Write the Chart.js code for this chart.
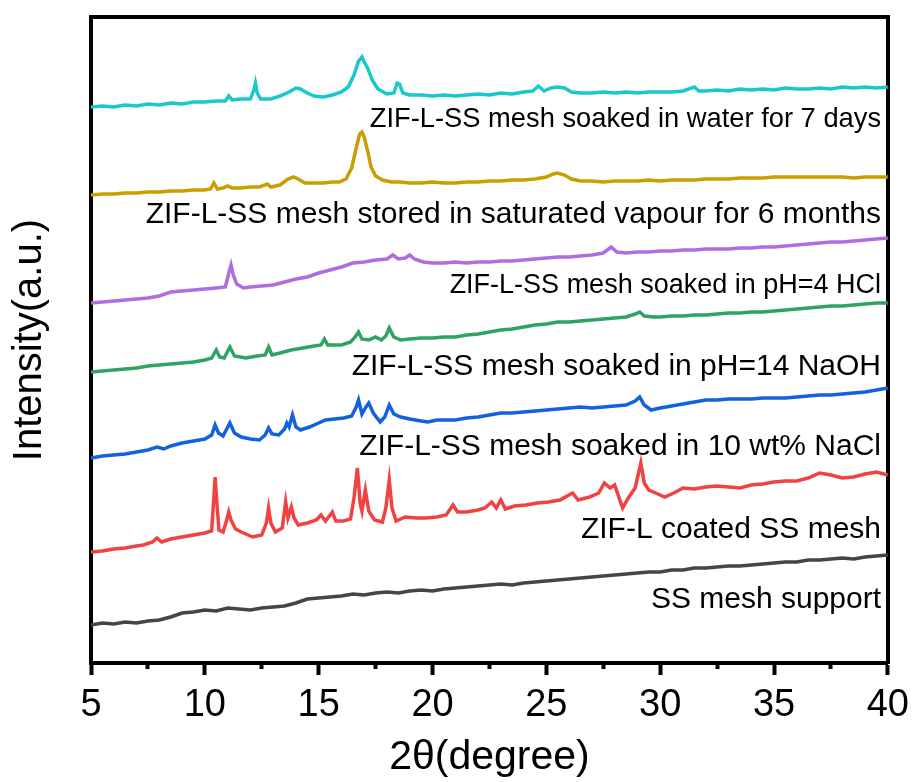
<!DOCTYPE html>
<html>
<head>
<meta charset="utf-8">
<title>XRD patterns</title>
<script src="https://cdn.jsdelivr.net/npm/chart.js@4"></script>
<style>
  html, body { margin: 0; padding: 0; background: #ffffff; }
  #chart { display: block; }
</style>
</head>
<body>
<canvas id="chart" width="917" height="782"></canvas>
<script>
// Series names, top to bottom
const seriesNames = [
  'ZIF-L-SS mesh soaked in water for 7 days',
  'ZIF-L-SS mesh stored in saturated vapour for 6 months',
  'ZIF-L-SS mesh soaked in pH=4 HCl',
  'ZIF-L-SS mesh soaked in pH=14 NaOH',
  'ZIF-L-SS mesh soaked in 10 wt% NaCl',
  'ZIF-L coated SS mesh',
  'SS mesh support'
];

const seriesColors = ['#18c8cc', '#c99e00', '#b06ce0', '#2ea362', '#1262e0', '#f04242', '#454545'];

// Tick values on the 2theta axis
const xTickValues = [5, 10, 15, 20, 25, 30, 35, 40];

// Water 7 days (offset intensity, a.u.)
const waterTheta = [5, 5.5, 6, 6.5, 7, 7.5, 8, 8.5, 9, 9.5, 10, 10.5, 10.9, 11.05, 11.2, 11.6, 12.0, 12.15, 12.22, 12.3, 12.45, 12.9, 13.3, 13.7, 14.0, 14.2, 14.5, 14.8, 15.2, 15.6, 16.0, 16.3, 16.55, 16.75, 16.9, 17.0, 17.15, 17.35, 17.6, 18.0, 18.3, 18.45, 18.55, 18.7, 19.0, 19.5, 20.0, 20.5, 21.0, 21.5, 22, 22.5, 23, 23.5, 24, 24.4, 24.65, 24.9, 25.2, 25.5, 25.8, 26.1, 26.5, 27, 27.5, 28, 28.5, 29, 29.5, 30, 30.5, 31, 31.5, 31.7, 32, 32.5, 33, 33.5, 34, 34.5, 35, 35.5, 36, 36.5, 37, 37.5, 38, 38.5, 39, 39.5, 40];
const waterI = [556, 557, 556, 558, 557, 559, 558, 560, 559, 561, 561, 562, 562, 567, 563, 564, 564, 573, 580, 570, 564, 564, 567, 571, 575, 574, 570, 567, 566, 568, 571, 576, 588, 602, 606, 601, 595, 583, 574, 569, 570, 580, 579, 570, 568, 568, 567, 568, 567, 568, 569, 568, 570, 569, 571, 572, 577, 572, 575, 576, 575, 571, 570, 570, 571, 570, 571, 570, 571, 571, 571, 572, 576, 572, 572, 573, 572, 574, 573, 574, 573, 575, 574, 574, 575, 574, 576, 575, 576, 575, 576];

// Saturated vapour 6 months
const vapourTheta = [5, 5.5, 6, 6.5, 7, 7.5, 8, 8.5, 9, 9.5, 10, 10.25, 10.4, 10.55, 10.8, 11.0, 11.2, 11.6, 12, 12.4, 12.75, 12.9, 13.3, 13.65, 13.9, 14.1, 14.4, 14.8, 15.2, 15.6, 15.9, 16.2, 16.45, 16.65, 16.8, 16.9, 17.0, 17.15, 17.3, 17.5, 17.8, 18.2, 18.6, 19, 19.5, 20, 20.5, 21, 21.5, 22, 22.5, 23, 23.5, 24, 24.5, 25, 25.3, 25.5, 25.8, 26.1, 26.5, 27, 27.5, 28, 28.5, 29, 29.5, 30, 30.5, 31, 31.5, 32, 32.5, 33, 33.5, 34, 34.5, 35, 35.5, 36, 36.5, 37, 37.5, 38, 38.5, 39, 39.5, 40];
const vapourI = [468, 469, 469, 470, 470, 471, 471, 472, 472, 473, 473, 474, 480, 474, 475, 477, 475, 475, 476, 476, 479, 476, 478, 484, 486, 484, 480, 480, 480, 481, 481, 484, 495, 515, 529, 531, 526, 512, 496, 487, 483, 481, 481, 480, 480, 481, 480, 480, 481, 481, 482, 482, 483, 483, 484, 486, 489, 490, 488, 484, 482, 482, 481, 482, 482, 482, 483, 482, 483, 483, 483, 484, 484, 484, 485, 485, 485, 486, 486, 486, 486, 486, 486, 486, 485, 486, 486, 486];

// pH=4 HCl
const hclTheta = [5, 5.5, 6, 6.5, 7, 7.5, 8, 8.5, 9, 9.5, 10, 10.5, 10.9, 11.05, 11.15, 11.25, 11.4, 11.7, 12, 12.5, 13, 13.5, 14, 14.5, 15, 15.5, 16, 16.5, 17, 17.5, 18, 18.25, 18.5, 18.8, 19.0, 19.2, 19.6, 20, 20.5, 21, 21.5, 22, 22.5, 23, 23.5, 24, 24.5, 25, 25.5, 26, 26.5, 27, 27.5, 27.85, 28.1, 28.5, 29, 29.5, 30, 30.5, 31, 31.5, 32, 32.5, 33, 33.5, 34, 34.5, 35, 35.5, 36, 36.5, 37, 37.5, 38, 38.5, 39, 39.5, 40];
const hclI = [360, 361, 362, 363, 364, 365, 367, 371, 372, 373, 374, 375, 376, 390, 398, 388, 379, 375, 376, 377, 378, 381, 384, 386, 390, 393, 396, 400, 401, 403, 404, 408, 404, 405, 408, 404, 401, 400, 400, 401, 400, 401, 401, 402, 402, 403, 404, 405, 406, 406, 407, 408, 410, 416, 411, 410, 411, 411, 412, 412, 413, 413, 414, 414, 414, 415, 415, 416, 416, 417, 418, 419, 420, 421, 421, 422, 423, 424, 425];

// pH=14 NaOH
const naohTheta = [5, 5.5, 6, 6.5, 7, 7.5, 8, 8.5, 9, 9.5, 10, 10.3, 10.5, 10.65, 10.85, 11.1, 11.3, 11.8, 12.3, 12.65, 12.8, 12.95, 13.3, 13.8, 14.3, 14.8, 15.1, 15.25, 15.4, 16, 16.4, 16.6, 16.75, 16.9, 17.2, 17.5, 17.75, 17.95, 18.1, 18.3, 18.6, 19, 19.5, 20, 20.5, 21, 21.5, 22, 22.5, 23, 23.5, 24, 24.5, 25, 25.5, 26, 26.5, 27, 27.5, 28, 28.5, 28.9, 29.1, 29.3, 29.7, 30, 30.5, 31, 31.5, 32, 32.5, 33, 33.5, 34, 34.5, 35, 35.5, 36, 36.5, 37, 37.5, 38, 38.5, 39, 39.5, 40];
const naohI = [291, 292, 293, 294, 295, 297, 298, 299, 300, 301, 303, 305, 313, 306, 305, 316, 307, 305, 307, 308, 316, 308, 310, 313, 315, 317, 318, 324, 318, 318, 321, 326, 331, 324, 323, 326, 323, 327, 335, 326, 323, 324, 325, 325, 326, 326, 328, 329, 331, 333, 334, 336, 338, 339, 341, 341, 342, 343, 344, 345, 346, 349, 351, 347, 346, 346, 347, 347, 348, 348, 349, 350, 350, 351, 351, 352, 353, 354, 355, 356, 357, 357, 358, 359, 360, 360];

// 10 wt% NaCl
const naclTheta = [5, 5.5, 6, 6.5, 7, 7.5, 7.9, 8.2, 8.5, 9, 9.5, 10, 10.3, 10.45, 10.6, 10.8, 11.1, 11.3, 11.6, 12, 12.4, 12.65, 12.8, 12.95, 13.25, 13.5, 13.6, 13.7, 13.85, 14.0, 14.2, 14.6, 15, 15.3, 15.7, 16.1, 16.45, 16.65, 16.75, 16.9, 17.05, 17.2, 17.4, 17.7, 17.9, 18.1, 18.3, 18.6, 19, 19.5, 19.8, 20.2, 20.6, 21, 21.5, 22, 22.5, 23, 23.5, 24, 24.5, 25, 25.5, 26, 26.5, 27, 27.5, 28, 28.5, 28.9, 29.1, 29.3, 29.6, 30, 30.5, 31, 31.5, 32, 32.5, 33, 33.5, 34, 34.5, 35, 35.5, 36, 36.5, 37, 37.5, 38, 38.5, 39, 39.5, 40];
const naclI = [205, 207, 208, 209, 211, 213, 216, 214, 217, 220, 222, 224, 228, 238, 230, 227, 240, 230, 226, 224, 223, 228, 235, 229, 228, 234, 240, 236, 248, 236, 233, 236, 240, 243, 244, 245, 247, 256, 263, 249, 255, 260, 250, 241, 246, 258, 249, 246, 244, 242, 241, 243, 243, 243, 245, 246, 248, 250, 250, 251, 252, 253, 254, 255, 256, 255, 256, 257, 258, 262, 266, 258, 253, 255, 257, 259, 261, 263, 263, 264, 264, 264, 265, 265, 265, 266, 267, 268, 268, 269, 270, 271, 273, 275];

// ZIF-L coated SS mesh
const coatedTheta = [5, 5.5, 6, 6.5, 7, 7.3, 7.7, 7.9, 8.1, 8.5, 9, 9.5, 10, 10.3, 10.38, 10.45, 10.53, 10.62, 10.8, 10.95, 11.05, 11.15, 11.35, 11.6, 12.1, 12.5, 12.7, 12.8, 12.9, 13.1, 13.4, 13.55, 13.65, 13.8, 13.92, 14.1, 14.5, 14.9, 15.1, 15.3, 15.6, 15.75, 16.1, 16.4, 16.55, 16.7, 16.82, 16.9, 17.05, 17.2, 17.45, 17.8, 17.95, 18.1, 18.22, 18.4, 18.8, 19.3, 19.7, 20.2, 20.6, 20.9, 21.1, 21.5, 22, 22.3, 22.6, 22.8, 23, 23.2, 23.6, 24.1, 24.6, 25.1, 25.6, 26.15, 26.4, 26.9, 27.3, 27.55, 27.8, 28.0, 28.35, 28.6, 28.9, 29.05, 29.15, 29.3, 29.5, 29.8, 30.2, 30.6, 31, 31.5, 32, 32.5, 33, 33.5, 34, 34.5, 35, 35.5, 36, 36.5, 37, 37.5, 38, 38.5, 39, 39.5, 40];
const coatedI = [111, 112, 114, 115, 117, 118, 121, 125, 121, 124, 126, 128, 130, 132, 160, 186, 160, 133, 131, 142, 151, 143, 134, 131, 126, 128, 140, 155, 140, 131, 135, 161, 145, 156, 145, 138, 140, 143, 148, 142, 151, 142, 142, 144, 165, 195, 160, 152, 173, 152, 143, 141, 155, 183, 155, 142, 146, 145, 145, 146, 148, 158, 151, 151, 153, 155, 161, 155, 163, 154, 157, 158, 160, 161, 163, 170, 163, 166, 170, 180, 175, 178, 155, 165, 175, 190, 200, 180, 173, 170, 166, 170, 175, 174, 176, 177, 176, 175, 178, 179, 181, 182, 182, 185, 190, 188, 185, 186, 189, 191, 188];

// SS mesh support
const supportTheta = [5, 5.5, 6, 6.5, 7, 7.5, 8, 8.5, 9, 9.5, 10, 10.5, 11, 11.5, 12, 12.5, 13, 13.5, 14, 14.5, 15, 15.5, 16, 16.5, 17, 17.5, 18, 18.5, 19, 19.5, 20, 20.5, 21, 21.5, 22, 22.5, 23, 23.5, 24, 24.5, 25, 25.5, 26, 26.5, 27, 27.5, 28, 28.5, 29, 29.5, 30, 30.5, 31, 31.5, 32, 32.5, 33, 33.5, 34, 34.5, 35, 35.5, 36, 36.5, 37, 37.5, 38, 38.5, 39, 39.5, 40];
const supportI = [38, 40, 39, 41, 40, 42, 43, 46, 50, 51, 53, 52, 55, 54, 53, 55, 56, 57, 60, 64, 65, 66, 67, 69, 68, 70, 71, 70, 72, 73, 72, 74, 75, 76, 77, 78, 79, 78, 80, 81, 82, 83, 84, 85, 86, 87, 88, 89, 90, 91, 91, 93, 93, 95, 95, 96, 97, 97, 98, 99, 100, 101, 101, 103, 103, 104, 105, 104, 106, 107, 108];

/**
 * Pair theta and intensity arrays into {x, y} points
 */
function toPoints(theta, intensity) {
  return theta.map((t, i) => ({ x: t, y: intensity[i] }));
}

const seriesData = [
  toPoints(waterTheta, waterI),
  toPoints(vapourTheta, vapourI),
  toPoints(hclTheta, hclI),
  toPoints(naohTheta, naohI),
  toPoints(naclTheta, naclI),
  toPoints(coatedTheta, coatedI),
  toPoints(supportTheta, supportI)
];

const FONT = '"Liberation Sans", Arial, sans-serif';
const frame = { display: true, color: '#000000', width: 4 };

// Draws the name of each pattern under its curve
const seriesLabelPlugin = {
  id: 'seriesLabels',
  afterDatasetsDraw(chart, args, opts) {
    const { ctx, scales } = chart;
    ctx.save();
    ctx.fillStyle = '#000000';
    ctx.textAlign = 'right';
    ctx.textBaseline = 'alphabetic';
    seriesNames.forEach((name, i) => {
      ctx.font = `${opts.sizes[i]}px ${FONT}`;
      ctx.fillText(name, scales.x.getPixelForValue(opts.anchorX), scales.y.getPixelForValue(opts.baselines[i]));
    });
    ctx.restore();
  }
};

const chart = new Chart(document.getElementById('chart'), {
  type: 'line',
  data: {
    datasets: seriesData.map((points, i) => ({
      label: seriesNames[i],
      data: points,
      borderColor: seriesColors[i],
      backgroundColor: seriesColors[i],
      borderWidth: 3.5,
      pointRadius: 0,
      tension: 0,
      fill: false
    }))
  },
  options: {
    responsive: false,
    animation: false,
    layout: { padding: { top: 17, right: 25, bottom: 0, left: 0 } },
    plugins: {
      legend: { display: false },
      tooltip: { enabled: false },
      seriesLabels: {
        anchorX: 39.7,
        baselines: [536, 440, 370, 288, 208, 125, 55],
        sizes: [27.3, 30, 27, 30, 30, 30, 30]
      }
    },
    scales: {
      x: {
        type: 'linear',
        position: 'bottom',
        min: 5,
        max: 40,
        afterBuildTicks: (axis) => {
          // major every 5, minor halfway between
          const ticks = [];
          xTickValues.forEach((v, i) => {
            ticks.push({ value: v });
            if (i < xTickValues.length - 1) ticks.push({ value: (v + xTickValues[i + 1]) / 2 });
          });
          axis.ticks = ticks;
        },
        ticks: {
          autoSkip: false,
          maxRotation: 0,
          minRotation: 0,
          padding: 8,
          color: '#000000',
          font: { family: FONT, size: 38 },
          callback: (v) => (xTickValues.includes(v) ? String(v) : '')
        },
        grid: {
          display: true,
          drawOnChartArea: false,
          drawTicks: true,
          tickLength: 12,
          tickWidth: 4,
          tickColor: '#000000',
          tickBorderDash: (ctx) => (ctx.tick && xTickValues.includes(ctx.tick.value) ? [] : [4, 100])
        },
        border: frame,
        title: {
          display: true,
          text: '2θ(degree)',
          color: '#000000',
          font: { family: FONT, size: 41 },
          padding: { top: 0, bottom: 0 }
        },
        afterFit: (axis) => { axis.height = 119; }
      },
      y: {
        position: 'left',
        min: 0,
        max: 646,
        ticks: { display: false },
        grid: { display: false },
        border: frame,
        title: {
          display: true,
          text: 'Intensity(a.u.)',
          color: '#000000',
          font: { family: FONT, size: 40 },
          padding: { top: 6, bottom: 0 }
        },
        afterFit: (axis) => { axis.width = 91; }
      },
      xTop: {
        type: 'linear',
        position: 'top',
        min: 5,
        max: 40,
        ticks: { display: false },
        grid: { display: false },
        border: frame,
        afterFit: (axis) => { axis.height = 0; }
      },
      yRight: {
        position: 'right',
        min: 0,
        max: 646,
        ticks: { display: false },
        grid: { display: false },
        border: frame,
        afterFit: (axis) => { axis.width = 0; }
      }
    }
  },
  plugins: [seriesLabelPlugin]
});
</script>
</body>
</html>
